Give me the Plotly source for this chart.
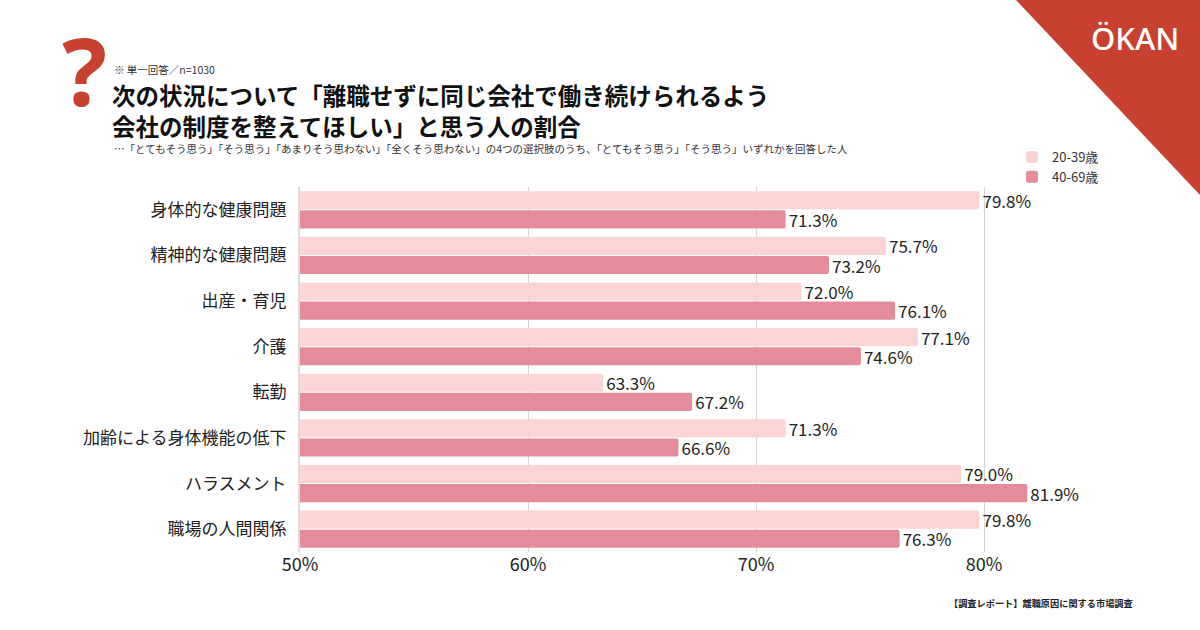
import plotly.graph_objects as go

W, H = 1200, 630
FONT = "Noto Sans CJK JP"

categories = ["身体的な健康問題", "精神的な健康問題", "出産・育児", "介護", "転勤",
              "加齢による身体機能の低下", "ハラスメント", "職場の人間関係"]
young = [79.8, 75.7, 72.0, 77.1, 63.3, 71.3, 79.0, 79.8]
older = [71.3, 73.2, 76.1, 74.6, 67.2, 66.6, 81.9, 76.3]
series_names = ["20-39歳", "40-69歳"]
tick_vals = [50, 60, 70, 80]
tick_text = ["50%", "60%", "70%", "80%"]

LIGHT = "#fdd4d6"
DARK = "#e48c9a"
RED = "#c8402f"


def px_x(p):
    return p / W


def px_y(p):
    return 1 - p / H


fig = go.Figure()
for name, vals, col in [(series_names[0], young, LIGHT), (series_names[1], older, DARK)]:
    fig.add_trace(go.Bar(
        y=categories, x=vals, name=name, orientation="h",
        marker=dict(color=col, line=dict(width=0)),
        text=[f"{v:.1f}%" for v in vals], textposition="outside",
        constraintext="none",
        textfont=dict(size=17, color="#222", family=FONT),
        cliponaxis=False,
    ))

fig.update_layout(
    width=W, height=H,
    margin=dict(l=0, r=0, t=0, b=0, pad=0),
    plot_bgcolor="white", paper_bgcolor="white",
    font=dict(family=FONT, color="#222"),
    barmode="group", bargap=0.16, bargroupgap=0.05, barcornerradius=2,
    showlegend=True,
    legend=dict(x=px_x(1012), y=px_y(142), xanchor="left", yanchor="top",
                font=dict(size=13, color="#333"), traceorder="normal",
                tracegroupgap=0, bgcolor="rgba(0,0,0,0)"),
    xaxis=dict(domain=[px_x(300), px_x(1041)], range=[50, 82.5],
               tickvals=tick_vals, ticktext=tick_text,
               tickfont=dict(size=18, color="#222"),
               showgrid=True, gridcolor="#d6d6d6", gridwidth=1,
               zeroline=False, showline=False, ticks="", automargin=False),
    yaxis=dict(domain=[px_y(552), px_y(187)], autorange="reversed",
               tickfont=dict(size=17, color="#222"), ticks="",
               showline=True, linecolor="#dcdcdc", linewidth=2,
               ticklabelstandoff=8, automargin=False),
)

# red corner with logo
fig.add_shape(type="path", xref="paper", yref="paper",
              path=f"M {px_x(1016)} 1 L 1 1 L 1 {px_y(195)} Z",
              fillcolor=RED, line=dict(width=0), layer="below")
fig.add_annotation(x=px_x(1135), y=px_y(38), xref="paper", yref="paper",
                   xanchor="center", yanchor="middle",
                   text="ÖKAN", showarrow=False,
                   font=dict(family="Noto Sans", size=31, color="white", weight=500))

# question mark icon
fig.add_annotation(x=px_x(84), y=px_y(70), xref="paper", yref="paper",
                   xanchor="center", yanchor="middle",
                   text="<b>?</b>", showarrow=False,
                   font=dict(family="Noto Sans", size=94, color=RED))

fig.add_annotation(x=px_x(112), y=px_y(69), xref="paper", yref="paper",
                   xanchor="left", yanchor="middle", text="※ 単一回答／n=1030", showarrow=False,
                   font=dict(size=10.5, color="#333"))
fig.add_annotation(x=px_x(110), y=px_y(110), xref="paper", yref="paper",
                   xanchor="left", yanchor="middle", align="left", showarrow=False,
                   text="<b>次の状況について「離職せずに同じ会社で働き続けられるよう<br>会社の制度を整えてほしい」と思う人の割合</b>",
                   font=dict(size=23.5, color="#111"))
fig.add_annotation(x=px_x(112), y=px_y(148), xref="paper", yref="paper",
                   xanchor="left", yanchor="middle", showarrow=False,
                   text="…「とてもそう思う」「そう思う」「あまりそう思わない」「全くそう思わない」の4つの選択肢のうち、「とてもそう思う」「そう思う」いずれかを回答した人",
                   font=dict(size=10.5, color="#333"))
fig.add_annotation(x=px_x(1135), y=px_y(603), xref="paper", yref="paper",
                   xanchor="right", yanchor="middle", showarrow=False,
                   text="<b>【調査レポート】離職原因に関する市場調査</b>",
                   font=dict(size=9.2, color="#222"))

fig.write_html("out.html", config={"displayModeBar": False},
               post_script="document.body.style.margin='0px';")
